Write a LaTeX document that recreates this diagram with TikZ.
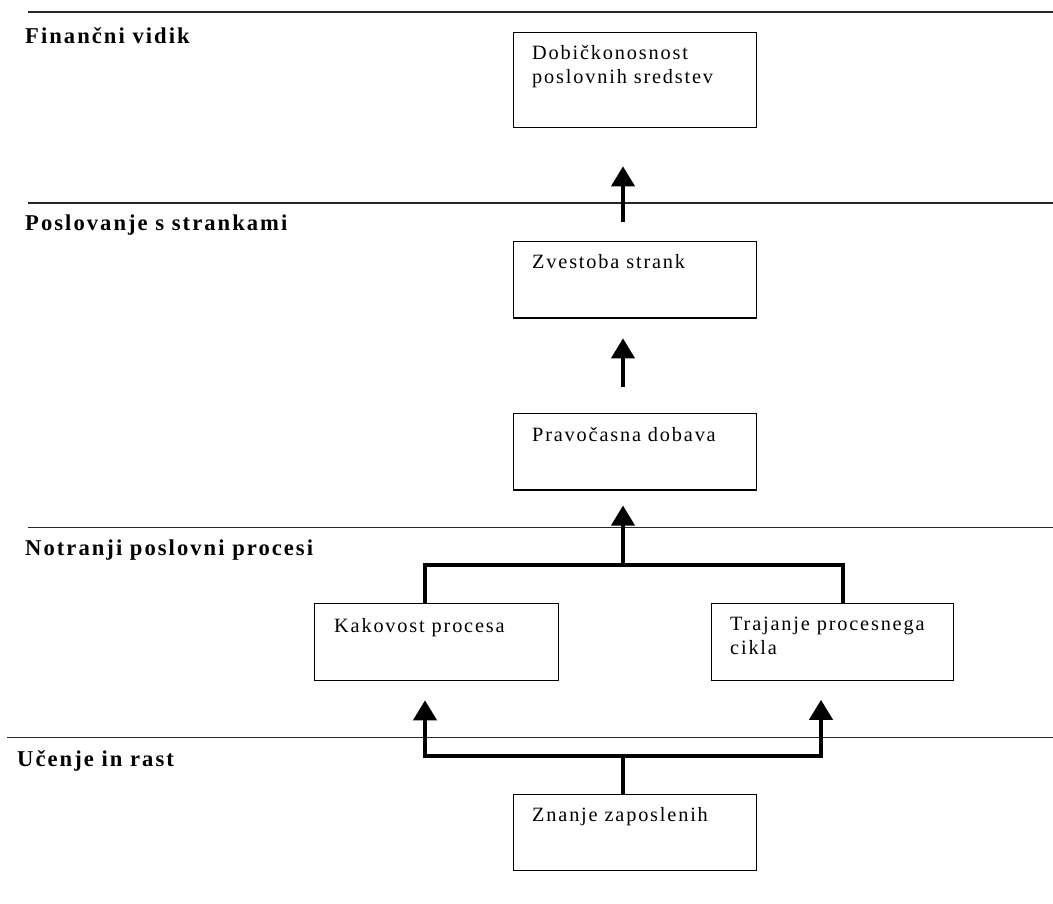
\documentclass[tikz,border=0pt]{standalone}
\usepackage{fontspec}
\setmainfont{Liberation Serif}[LetterSpace=9]
\usetikzlibrary{arrows.meta}
\newcommand{\tlines}[2]{\vtop{\hbox{#1}\hbox{#2}}}
\begin{document}
\begin{tikzpicture}[x=1pt,y=-1pt,
  rule/.style={line width=1.6pt, draw=black!85},
  box/.style={draw, line width=1.3pt, rectangle, anchor=north west, inner sep=0pt},
  boxtext/.style={anchor=base west, inner sep=0pt, font=\fontsize{20.3}{24.5}\selectfont},
  head/.style={anchor=base west, inner sep=0pt, font=\fontsize{22.6}{26}\selectfont\bfseries},
  conn/.style={line width=4pt, line join=miter},
  arr/.style={line width=4pt, line join=miter, -{Triangle[width=23pt,length=20pt]}},
]
\useasboundingbox (0,0) rectangle (1053,903);

% layer rules
\draw[rule] (28,11.7) -- (1053,11.7);
\draw[rule] (28,202.7) -- (1053,202.7);
\draw[rule] (28,527.5) -- (1053,527.5);
\draw[rule] (7,737.3) -- (1053,737.3);

% headings
\node[head] (h1) at (25,43) {Finančni vidik};
\node[head] (h2) at (25,230.7) {Poslovanje s strankami};
\node[head] (h3) at (25,555.7) {Notranji poslovni procesi};
\node[head] (h4) at (17,766.7) {Učenje in rast};

% boxes
\node[box, minimum width=243pt, minimum height=95pt] (b1) at (513,31.7) {};
\node[box, minimum width=243pt, minimum height=76.5pt] (b2) at (513,240.7) {};
\node[box, minimum width=243pt, minimum height=76.5pt] (b3) at (513,412.7) {};
\node[box, minimum width=244pt, minimum height=77pt] (b4) at (314,603) {};
\node[box, minimum width=242pt, minimum height=76.5pt] (b5) at (711,603) {};
\node[box, minimum width=243pt, minimum height=76pt] (b6) at (513,794) {};

% box texts
\node[boxtext] (t1) at ([shift={(19,27.3)}]b1.north west) {\tlines{Dobičkonosnost}{poslovnih sredstev}};
\node[boxtext] (t2) at ([shift={(19,27.3)}]b2.north west) {Zvestoba strank};
\node[boxtext] (t3) at ([shift={(19,29)}]b3.north west) {Pravočasna dobava};
\node[boxtext] (t4) at ([shift={(20,29)}]b4.north west) {Kakovost procesa};
\node[boxtext] (t5) at ([shift={(19,27)}]b5.north west) {\tlines{Trajanje procesnega}{cikla}};
\node[boxtext] (t6) at ([shift={(19,27.7)}]b6.north west) {Znanje zaposlenih};

% helper coordinates
\coordinate (xa) at (623,0);
\coordinate (xl) at (425,0);
\coordinate (xr) at (843,0);
\coordinate (xr2) at (821,0);
\coordinate (ja) at (623,565);
\coordinate (jb) at (623,756);

% connectors
\draw[arr, shorten <=18.7pt, shorten >=38.3pt] (b2.north -| xa) -- (b1.south -| xa);
\draw[arr, shorten <=25.7pt, shorten >=19.8pt] (b3.north -| xa) -- (b2.south -| xa);
\draw[conn] (b4.north -| xl) |- (ja) -| (b5.north -| xr);
\draw[arr, shorten >=15pt] (ja) -- (b3.south -| ja);
\draw[conn] (b6.north -| jb) -- (jb);
\draw[arr, shorten >=19pt] (jb) -| (b4.south -| xl);
\draw[arr, shorten >=19pt] (jb) -| (b5.south -| xr2);
\end{tikzpicture}
\end{document}
